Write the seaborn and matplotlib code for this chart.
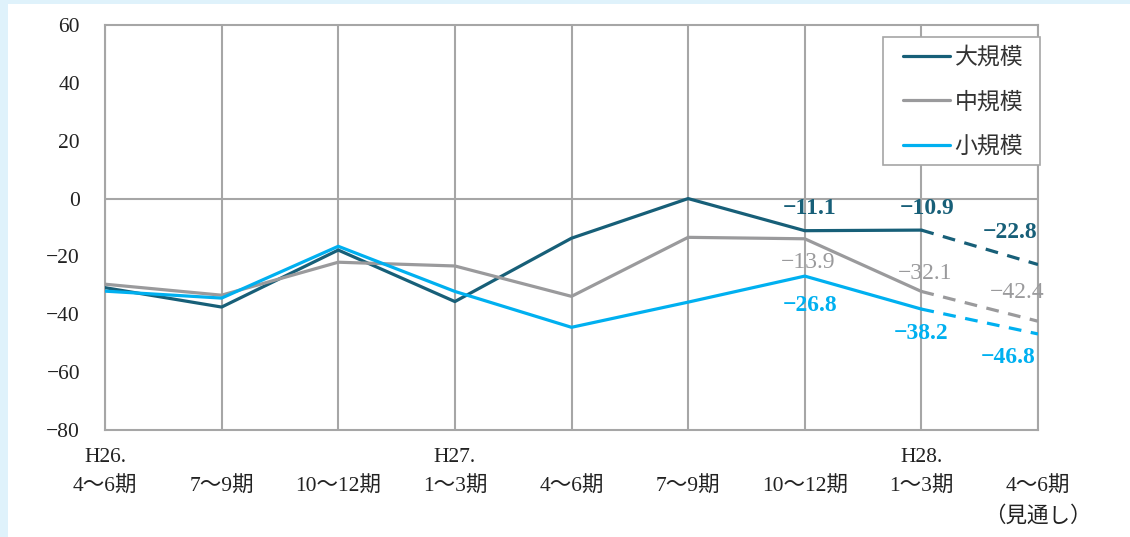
import matplotlib
matplotlib.use("Agg")
import matplotlib.pyplot as plt
import seaborn as sns
from matplotlib.lines import Line2D
from matplotlib.patches import Rectangle

# data
periods = ["H26.\n4～6期", "\n7～9期", "\n10～12期", "H27.\n1～3期", "\n4～6期",
           "\n7～9期", "\n10～12期", "H28.\n1～3期", "\n4～6期\n（見通し）"]
series_names = ["大規模", "中規模", "小規模"]
large = [-30.8, -37.5, -17.8, -35.6, -13.7, 0.0, -11.1, -10.9, -22.8]
medium = [-29.6, -33.4, -22.0, -23.3, -33.8, -13.4, -13.9, -32.1, -42.4]
small = [-32.0, -34.4, -16.5, -32.1, -44.5, -35.8, -26.8, -38.2, -46.8]
labelled_idx = [6, 7, 8]

colors = ["#175f78", "#9a9a9c", "#00b0f0"]
GRID = "#a6a6a6"
BORDER = "#dff2fb"
W, H = 1130, 537

sns.set_theme(style="white")
plt.rcParams["font.family"] = ["Liberation Serif", "Noto Sans CJK JP", "DejaVu Sans"]
plt.rcParams["axes.unicode_minus"] = True

fig = plt.figure(figsize=(W / 100, H / 100), dpi=100)
fig.patch.set_facecolor("white")
# light blue frame strips on the left and top edges
fig.patches.append(Rectangle((0, 0), 8 / W, 1, transform=fig.transFigure,
                             facecolor=BORDER, edgecolor="none"))
fig.patches.append(Rectangle((0, 1 - 4 / H), 1, 4 / H, transform=fig.transFigure,
                             facecolor=BORDER, edgecolor="none"))
ax = fig.add_axes([105 / W, 1 - 430 / H, 933 / W, 405 / H])
ax.set_facecolor("white")

xs = list(range(len(periods)))
all_vals = [large, medium, small]

for vals, col in zip(all_vals, colors):
    sns.lineplot(x=xs[:8], y=vals[:8], ax=ax, color=col, linewidth=2.3, zorder=3)
    sns.lineplot(x=xs[7:], y=vals[7:], ax=ax, color=col, linewidth=2.3,
                 linestyle=(0, (4, 3)), zorder=3)

# label offsets in pixels (per series, per labelled point)
offsets = [
    [(5, 22), (6, 22), (-28, 32)],
    [(3, -24), (4, 18), (-21, 29)],
    [(5, -29), (0, -24), (-30, -24)],
]
for vals, col, offs, bold in zip(all_vals, colors, offsets, ["bold", "normal", "bold"]):
    for i, (dx, dy) in zip(labelled_idx, offs):
        ax.annotate(f"{vals[i]:.1f}".replace("-", "−"), (xs[i], vals[i]),
                    xytext=(dx, dy), textcoords="offset pixels",
                    ha="center", va="center", fontsize=17, color=col,
                    fontweight=bold, zorder=4)

ax.set_xlim(0, 8)
ax.set_ylim(-80, 60)
ax.set_yticks(range(-80, 61, 20))
ax.set_yticklabels([str(v).replace("-", "−") for v in range(-80, 61, 20)], fontsize=15.5)
ax.set_xticks(xs)
ax.set_xticklabels(periods, fontsize=15.5, linespacing=1.62)
ax.tick_params(axis="y", direction="in", length=5, width=1.2, color=GRID, pad=18, labelcolor="#222222")
ax.tick_params(axis="x", length=0, pad=13, labelcolor="#222222")

for x in xs:
    ax.axvline(x, color=GRID, linewidth=1.5, zorder=1)
ax.axhline(0, color=GRID, linewidth=1.5, zorder=1)
for s in ax.spines.values():
    s.set_color(GRID)
    s.set_linewidth(1.5)

# legend box drawn by hand, legend entries placed inside it
ax.add_patch(Rectangle((883 / W, 1 - 165 / H), 157 / W, 128 / H, transform=fig.transFigure,
                       facecolor="white", edgecolor=GRID, linewidth=1.2,
                       clip_on=False, zorder=4.5))
handles = [Line2D([0], [0], color=c, linewidth=2.3) for c in colors]
leg = ax.legend(handles, series_names, loc="upper left",
                bbox_to_anchor=(903 / W, 1 - 46 / H), bbox_transform=fig.transFigure,
                borderaxespad=0, borderpad=0, frameon=False, handlelength=2.05,
                handletextpad=0.2, labelspacing=0.93,
                prop={"family": ["Noto Sans CJK JP"], "size": 16.5})
for t in leg.get_texts():
    t.set_color("#333333")

fig.savefig("out.png", dpi=100, facecolor=fig.get_facecolor())
